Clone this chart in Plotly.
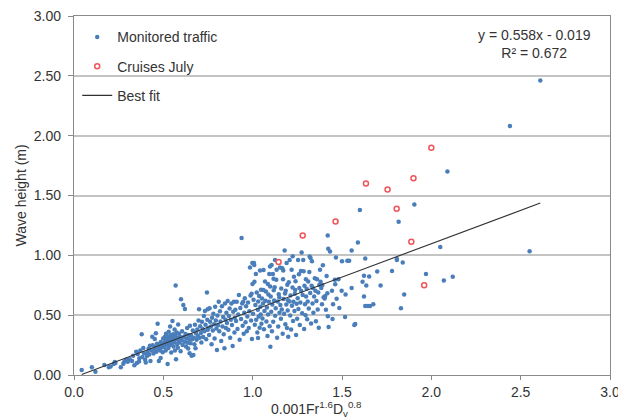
import plotly.graph_objects as go

# ---- data ----
blue_x = [
0.043,0.100,0.120,0.170,0.195,0.205,
0.222,0.228,0.232,0.262,0.282,0.292,0.301,0.276,
0.312,0.325,0.338,0.348,0.357,0.352,0.364,0.379,0.383,0.331,0.371,0.392,0.398,0.388,0.366,
0.402,0.408,0.412,0.418,0.421,0.428,0.433,0.438,0.441,0.445,0.449,0.452,0.455,0.458,0.461,0.465,0.468,0.472,0.475,0.478,0.482,0.486,0.489,0.492,0.496,0.499,0.425,0.485,
0.502,0.505,0.508,0.511,0.513,0.515,0.518,0.520,0.522,0.524,0.526,0.528,0.530,0.532,0.534,0.536,0.538,0.540,0.542,0.544,0.546,0.548,0.549,
0.551,0.553,0.555,0.557,0.559,0.561,0.563,0.565,0.567,0.569,0.571,0.573,0.575,0.577,0.579,0.581,0.583,0.586,0.588,0.591,0.594,0.597,0.599,
0.602,0.605,0.608,0.612,0.615,0.618,0.621,0.624,0.627,0.630,0.633,0.636,0.639,0.642,0.645,0.647,0.649,
0.652,0.655,0.658,0.661,0.665,0.668,0.671,0.674,0.677,0.680,0.683,0.686,0.690,0.693,0.697,0.700,
0.703,0.706,0.710,0.713,0.716,0.720,0.723,0.727,0.730,0.733,0.736,0.740,0.744,0.746,0.748,0.749,
0.752,0.756,0.759,0.762,0.766,0.770,0.773,0.777,0.780,0.784,0.787,0.790,0.794,0.797,0.800,
0.803,0.806,0.810,0.813,0.817,0.820,0.824,0.828,0.831,0.835,0.838,0.842,0.845,0.848,0.850,
0.853,0.856,0.860,0.864,0.867,0.871,0.874,0.878,0.881,0.884,0.888,0.891,0.895,0.898,0.900,
0.903,0.907,0.911,0.915,0.919,0.923,0.927,0.931,0.935,0.938,0.941,0.944,0.947,0.950,
0.953,0.956,0.960,0.963,0.967,0.970,0.974,0.978,0.981,0.985,0.988,0.991,0.994,0.996,0.998,0.999,
1.002,1.005,1.007,1.009,1.012,1.015,1.018,1.020,1.023,1.026,1.029,1.031,1.034,1.036,1.039,1.041,1.043,1.045,1.047,1.049,1.010,1.030,
1.052,1.055,1.058,1.060,1.063,1.066,1.069,1.071,1.074,1.077,1.080,1.083,1.086,1.088,1.091,1.093,1.095,1.097,1.098,1.099,1.061,1.085,
1.101,1.104,1.106,1.108,1.110,1.113,1.115,1.117,1.120,1.123,1.126,1.129,1.132,1.134,1.137,1.140,1.143,1.146,1.149,1.150,1.125,1.118,
1.153,1.155,1.158,1.160,1.163,1.166,1.168,1.171,1.173,1.176,1.179,1.181,1.183,1.185,1.188,1.190,1.192,1.194,1.196,1.198,1.199,1.170,
1.202,1.205,1.207,1.210,1.212,1.215,1.218,1.220,1.223,1.224,1.226,1.228,1.231,1.234,1.236,1.238,1.240,1.243,1.246,1.249,
1.252,1.254,1.256,1.259,1.261,1.264,1.267,1.270,1.272,1.274,1.277,1.280,1.283,1.285,1.288,1.290,1.293,1.296,1.298,1.299,
1.302,1.305,1.308,1.311,1.314,1.317,1.319,1.322,1.324,1.327,1.330,1.332,1.335,1.337,1.340,1.344,1.348,
1.351,1.354,1.357,1.360,1.364,1.367,1.370,1.373,1.377,1.380,1.384,1.388,1.390,1.393,1.397,
1.403,1.406,1.410,1.414,1.418,1.420,1.421,1.423,1.425,1.433,1.444,1.447,1.450,
1.460,1.462,1.466,1.470,1.480,1.485,1.498,1.500,
1.517,1.520,1.530,1.540,1.554,1.554,1.569,1.574,1.589,
1.600,1.615,1.623,1.623,1.630,1.630,1.636,1.645,1.652,1.657,1.675,1.697,
1.716,1.780,1.807,1.807,1.817,1.830,1.840,1.848,1.905,1.970,
2.050,2.070,2.090,2.120,2.440,2.550,2.610]

blue_y = [
0.042,0.064,0.028,0.084,0.064,0.070,
0.092,0.108,0.100,0.064,0.112,0.128,0.110,0.095,
0.132,0.118,0.082,0.195,0.176,0.100,0.112,0.340,0.150,0.160,0.205,0.182,0.128,0.225,0.140,
0.105,0.158,0.190,0.222,0.172,0.118,0.205,0.320,0.248,0.180,0.212,0.300,0.232,0.349,0.195,0.262,0.428,0.222,0.118,0.245,0.205,0.275,0.230,0.258,0.190,0.305,0.245,0.142,
0.262,0.235,0.318,0.282,0.205,0.345,0.255,0.298,0.322,0.092,0.268,0.225,0.362,0.295,0.312,0.248,0.405,0.335,0.278,0.188,0.302,0.325,0.262,
0.452,0.292,0.340,0.238,0.315,0.275,0.380,0.205,0.330,0.747,0.131,0.298,0.355,0.260,0.310,0.228,0.422,0.288,0.345,0.272,0.318,0.198,0.633,
0.292,0.365,0.250,0.586,0.318,0.278,0.552,0.342,0.238,0.305,0.392,0.270,0.222,0.335,0.298,0.182,0.412,
0.265,0.330,0.160,0.298,0.372,0.167,0.312,0.258,0.420,0.223,0.348,0.295,0.380,0.325,0.455,0.550,
0.312,0.408,0.352,0.272,0.445,0.385,0.318,0.492,0.365,0.535,0.420,0.298,0.689,0.462,0.550,0.378,
0.392,0.335,0.558,0.445,0.405,0.258,0.478,0.372,0.512,0.425,0.305,0.570,0.455,0.388,0.209,
0.498,0.415,0.612,0.365,0.532,0.448,0.285,0.575,0.405,0.485,0.340,0.223,0.598,0.462,0.392,
0.520,0.435,0.618,0.378,0.492,0.555,0.312,0.462,0.598,0.418,0.243,0.528,0.612,0.355,0.478,
0.545,0.452,0.612,0.385,0.505,0.669,0.295,0.560,0.468,1.144,0.598,0.412,0.613,0.345,
0.520,0.642,0.440,0.575,0.365,0.488,0.605,0.392,0.532,0.898,0.665,0.455,0.678,0.300,0.935,0.760,
0.512,0.628,0.935,0.920,0.420,0.585,0.845,0.462,0.690,0.355,0.545,0.615,0.488,0.660,0.395,0.873,0.570,0.505,0.712,0.428,0.780,0.310,
0.640,0.472,0.598,0.711,0.382,0.535,0.781,0.620,0.697,0.448,0.565,0.325,0.505,0.672,0.612,0.843,0.408,0.906,0.739,0.237,0.878,0.760,
0.655,0.528,0.920,0.365,0.590,0.843,0.445,0.805,0.622,0.734,0.495,0.558,0.795,0.879,0.312,0.615,0.405,0.675,0.650,0.520,0.960,0.708,
0.898,0.585,0.470,0.722,0.548,0.893,0.345,0.873,0.635,0.512,1.040,0.682,0.425,0.705,0.590,0.935,0.392,0.755,0.540,0.625,0.320,0.800,
0.776,0.615,0.960,0.498,0.665,0.380,0.879,0.578,0.731,0.993,0.452,0.612,0.820,0.535,0.680,0.711,0.784,0.335,0.595,0.470,
0.642,0.960,0.552,0.842,0.728,0.418,0.605,0.870,0.702,1.024,0.515,0.668,0.960,0.868,0.385,0.745,0.592,0.500,0.800,0.655,
0.720,0.465,0.615,0.781,0.555,0.860,0.990,0.685,0.977,0.430,0.745,0.951,0.598,0.726,0.520,0.655,0.808,
0.705,0.450,0.618,0.800,0.548,0.690,0.395,0.752,0.879,0.780,0.726,0.592,0.753,0.918,0.650,
0.640,0.661,0.545,0.828,0.684,1.166,0.491,1.054,0.402,1.032,0.705,0.469,0.592,
0.795,0.759,0.982,0.638,0.800,0.560,0.703,0.950,
0.485,0.672,0.955,0.955,1.040,0.728,0.418,0.427,1.107,
1.378,0.780,0.830,0.655,0.973,0.577,0.747,0.577,0.823,0.577,0.592,0.865,
0.747,0.870,0.970,0.960,1.280,0.558,0.940,0.672,1.425,0.845,
1.070,0.790,1.700,0.820,2.080,1.035,2.460]

red_x = [1.145, 1.280, 1.464, 1.634, 1.755, 1.806, 1.888, 1.900, 1.960, 2.000]
red_y = [0.945, 1.166, 1.283, 1.600, 1.550, 1.390, 1.113, 1.645, 0.750, 1.900]

fit_slope = 0.558
fit_intercept = -0.019
fit_r2 = 0.672

x_ticks = [0.0, 0.5, 1.0, 1.5, 2.0, 2.5, 3.0]
x_tick_labels = ["0.0", "0.5", "1.0", "1.5", "2.0", "2.5", "3.0"]
y_ticks = [0.0, 0.5, 1.0, 1.5, 2.0, 2.5, 3.0]
y_tick_labels = ["0.00", "0.50", "1.00", "1.50", "2.00", "2.50", "3.00"]

series_names = ["Monitored traffic", "Cruises July", "Best fit"]

# ---- figure ----
FONT = "Liberation Sans, Arial, sans-serif"
TXT = "#333333"

fit_x = [min(blue_x), max(blue_x)]
fit_y = [fit_slope * v + fit_intercept for v in fit_x]

fig = go.Figure()
fig.add_trace(go.Scatter(
    x=blue_x, y=blue_y, mode="markers", name=series_names[0], legendgroup="a",
    marker=dict(color="#4a7ebb", size=4.5, line=dict(width=0))))
fig.add_trace(go.Scatter(
    x=red_x, y=red_y, mode="markers", name=series_names[1], legendgroup="b",
    marker=dict(symbol="circle-open", color="#f0555a", size=5, line=dict(width=1.5))))
fig.add_trace(go.Scatter(
    x=fit_x, y=fit_y, mode="lines", name=series_names[2], legendgroup="c",
    line=dict(color="#303030", width=1.1)))

fig.add_annotation(
    x=(534 - 74) / 536, y=(375 - 25) / 359, xref="paper", yref="paper",
    text="y = %.3fx - %.3f<br>R\u00b2 = %.3f" % (fit_slope, -fit_intercept, fit_r2),
    showarrow=False, align="center", xanchor="center", yanchor="top",
    font=dict(family=FONT, size=14, color=TXT))

fig.add_annotation(
    x=(316 - 74) / 536, y=(375 - 409) / 359, xref="paper", yref="paper",
    text="0.001Fr<sup>1.6</sup>D<sub>v</sub><sup>0.8</sup>",
    showarrow=False, xanchor="center", yanchor="middle",
    font=dict(family=FONT, size=14, color=TXT))

fig.add_annotation(
    x=(20 - 74) / 536, y=0.5, xref="paper", yref="paper",
    text="Wave height (m)", textangle=-90,
    showarrow=False, xanchor="center", yanchor="middle",
    font=dict(family=FONT, size=14, color=TXT))

fig.update_layout(
    width=618, height=420,
    margin=dict(l=74, r=8, t=16, b=45, autoexpand=False),
    paper_bgcolor="white", plot_bgcolor="white",
    font=dict(family=FONT, size=14, color=TXT),
    showlegend=True,
    legend=dict(x=0.006, y=0.985, xanchor="left", yanchor="top",
                bgcolor="rgba(0,0,0,0)", tracegroupgap=8,
                font=dict(family=FONT, size=14, color=TXT)),
    xaxis=dict(range=[0, 3], tickvals=x_ticks, ticktext=x_tick_labels,
               showgrid=False, zeroline=False, automargin=False,
               ticklabeloverflow="allow",
               showline=True, linecolor="#8a8a8a", linewidth=1.3, mirror=True,
               ticks="outside", ticklen=4, tickcolor="#8a8a8a",
               tickfont=dict(family=FONT, size=14, color=TXT)),
    yaxis=dict(range=[0, 3], tickvals=y_ticks, ticktext=y_tick_labels,
               showgrid=True, gridcolor="#c4c4c4", gridwidth=1.5, zeroline=False,
               automargin=False, ticklabeloverflow="allow",
               showline=True, linecolor="#8a8a8a", linewidth=1.3, mirror=True,
               ticks="outside", ticklen=5, tickcolor="#8a8a8a",
               ticklabelstandoff=4,
               tickfont=dict(family=FONT, size=14, color=TXT)),
)

fig.write_html("out.html", config={"displayModeBar": False},
               post_script="document.body.style.margin='0';document.body.style.overflow='hidden';")
